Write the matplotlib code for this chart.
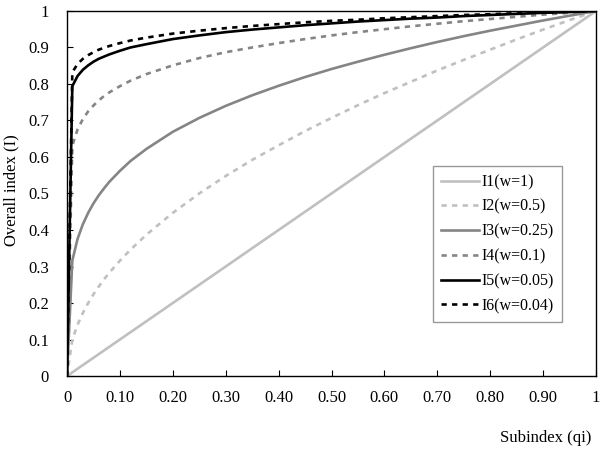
import matplotlib
matplotlib.use("Agg")
import matplotlib.pyplot as plt

plt.rcParams['font.family'] = ['Liberation Serif', 'DejaVu Serif']

# subindex values where the curves were read
q = [0, 0.01, 0.02, 0.03, 0.04, 0.05, 0.06, 0.07, 0.08, 0.1, 0.12, 0.15, 0.2, 0.25, 0.3, 0.35,
     0.4, 0.45, 0.5, 0.55, 0.6, 0.65, 0.7, 0.75, 0.8, 0.85, 0.9, 0.95, 1.0]

I1 = [0, 0.01, 0.02, 0.03, 0.04, 0.05, 0.06, 0.07, 0.08, 0.1, 0.12, 0.15, 0.2, 0.25, 0.3, 0.35,
      0.4, 0.45, 0.5, 0.55, 0.6, 0.65, 0.7, 0.75, 0.8, 0.85, 0.9, 0.95, 1.0]
I2 = [0, 0.10, 0.141, 0.173, 0.20, 0.224, 0.245, 0.265, 0.283, 0.316, 0.346, 0.387, 0.447, 0.50, 0.548, 0.592,
      0.632, 0.671, 0.707, 0.742, 0.775, 0.806, 0.837, 0.866, 0.894, 0.922, 0.949, 0.975, 1.0]
I3 = [0, 0.316, 0.376, 0.416, 0.447, 0.473, 0.495, 0.514, 0.532, 0.562, 0.589, 0.622, 0.669, 0.707, 0.74, 0.769,
      0.795, 0.819, 0.841, 0.861, 0.88, 0.898, 0.915, 0.931, 0.946, 0.96, 0.974, 0.987, 1.0]
I4 = [0, 0.631, 0.676, 0.704, 0.725, 0.741, 0.755, 0.767, 0.777, 0.794, 0.809, 0.827, 0.851, 0.871, 0.887, 0.90,
      0.912, 0.923, 0.933, 0.942, 0.95, 0.958, 0.965, 0.972, 0.978, 0.984, 0.99, 0.995, 1.0]
I5 = [0, 0.794, 0.822, 0.839, 0.851, 0.861, 0.869, 0.875, 0.881, 0.891, 0.9, 0.909, 0.923, 0.933, 0.942, 0.949,
      0.955, 0.961, 0.966, 0.971, 0.975, 0.979, 0.982, 0.986, 0.989, 0.992, 0.995, 0.997, 1.0]
I6 = [0, 0.832, 0.855, 0.869, 0.879, 0.887, 0.894, 0.899, 0.904, 0.912, 0.919, 0.927, 0.938, 0.946, 0.953, 0.959,
      0.964, 0.969, 0.973, 0.976, 0.98, 0.983, 0.986, 0.989, 0.991, 0.994, 0.996, 0.998, 1.0]

labels = ['I1(w=1)', 'I2(w=0.5)', 'I3(w=0.25)', 'I4(w=0.1)', 'I5(w=0.05)', 'I6(w=0.04)']
colors = ['#c0c0c0', '#c0c0c0', '#858585', '#858585', 'black', 'black']
styles = ['-', '--', '-', '--', '-', '--']

xticks = [0, 0.1, 0.2, 0.3, 0.4, 0.5, 0.6, 0.7, 0.8, 0.9, 1.0]
xticklabels = ['0', '0.10', '0.20', '0.30', '0.40', '0.50', '0.60', '0.70', '0.80', '0.90', '1']
yticks = [0, 0.1, 0.2, 0.3, 0.4, 0.5, 0.6, 0.7, 0.8, 0.9, 1.0]
yticklabels = ['0', '0.1', '0.2', '0.3', '0.4', '0.5', '0.6', '0.7', '0.8', '0.9', '1']

fig = plt.figure(figsize=(6.06, 4.57), dpi=100)
ax = fig.add_axes([0.1106, 0.1772, 0.8729, 0.7988])

for ys, lab, c, ls in zip([I1, I2, I3, I4, I5, I6], labels, colors, styles):
    ax.plot(q, ys, color=c, linestyle=ls, linewidth=1.9, label=lab,
            dashes=(2, 2) if ls == '--' else (None, None))

ax.set_xlim(0, 1)
ax.set_ylim(0, 1)
ax.set_xticks(xticks)
ax.set_xticklabels(xticklabels)
ax.set_yticks(yticks)
ax.set_yticklabels(yticklabels)
ax.tick_params(direction='in', length=4, labelsize=12, pad=10, colors='black')
ax.tick_params(axis='y', pad=13)
for s in ax.spines.values():
    s.set_color('black')
    s.set_linewidth(1)

fig.text(0.018, 0.585, 'Overall index (I)', rotation=90, ha='center', va='center', fontsize=12)
fig.text(0.9, 0.042, 'Subindex (qi)', ha='center', va='center', fontsize=12)

leg = ax.legend(loc='upper right', bbox_to_anchor=(0.936, 0.575), fontsize=11.5,
                fancybox=False, edgecolor='#808080', handlelength=2.4,
                handletextpad=0.15, borderpad=0.5, labelspacing=0.55, borderaxespad=0)
leg.get_frame().set_linewidth(1)

fig.savefig('out.png', dpi=100)
